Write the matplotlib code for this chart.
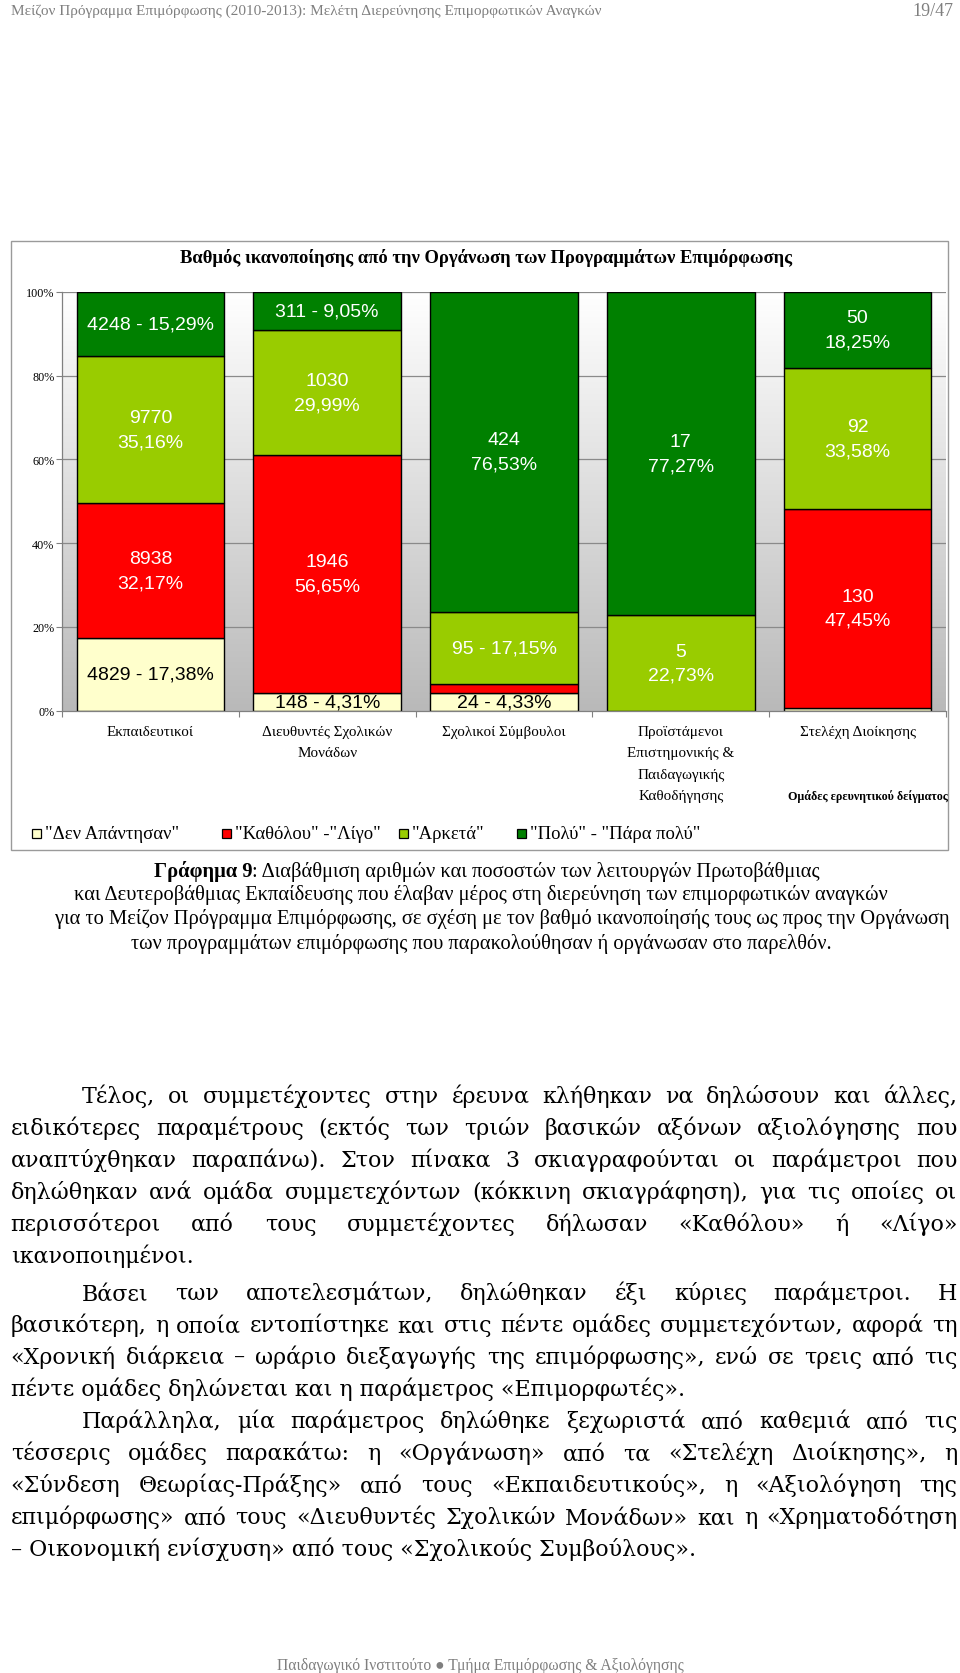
import numpy as np
import matplotlib
matplotlib.use('Agg')
import matplotlib.pyplot as plt
from matplotlib.font_manager import FontProperties
from matplotlib.patches import Rectangle
from matplotlib.colors import LinearSegmentedColormap
from matplotlib.transforms import blended_transform_factory

# ---------------- data ----------------
groups = ["Εκπαιδευτικοί", "Διευθυντές Σχολικών\nΜονάδων", "Σχολικοί Σύμβουλοι",
          "Προϊστάμενοι\nΕπιστημονικής &\nΠαιδαγωγικής\nΚαθοδήγησης", "Στελέχη Διοίκησης"]
series_names = ['"Δεν Απάντησαν"', '"Καθόλου" -"Λίγο"', '"Αρκετά"', '"Πολύ" - "Πάρα πολύ"']
series_colors = ['#FFFFCC', '#FF0000', '#99CC00', '#008000']
label_colors = ['black', 'white', 'white', 'white']

no_answer_n = [4829, 148, 24, 0, 2]
no_answer_pct = [17.38, 4.31, 4.33, 0.00, 0.73]
little_n = [8938, 1946, 11, 0, 130]
little_pct = [32.17, 56.65, 1.99, 0.00, 47.45]
enough_n = [9770, 1030, 95, 5, 92]
enough_pct = [35.16, 29.99, 17.15, 22.73, 33.58]
much_n = [4248, 311, 424, 17, 50]
much_pct = [15.29, 9.05, 76.53, 77.27, 18.25]

counts = [no_answer_n, little_n, enough_n, much_n]
pcts = [no_answer_pct, little_pct, enough_pct, much_pct]
# label layout per series/group: 1 = "n - p%", 2 = "n\np%", 0 = none
label_mode = [[1, 1, 1, 0, 0],
              [2, 2, 0, 0, 2],
              [2, 2, 1, 2, 2],
              [1, 1, 2, 2, 2]]

chart_title = "Βαθμός ικανοποίησης από την Οργάνωση των Προγραμμάτων Επιμόρφωσης"
x_axis_title = "Ομάδες ερευνητικού δείγματος"
header_left = "Μείζον Πρόγραμμα Επιμόρφωσης (2010-2013): Μελέτη Διερεύνησης Επιμορφωτικών Αναγκών"
header_right = "19/47"
footer = "Παιδαγωγικό Ινστιτούτο ● Τμήμα Επιμόρφωσης & Αξιολόγησης"

caption_bold = "Γράφημα 9"
caption_lines = [": Διαβάθμιση αριθμών και ποσοστών των λειτουργών Πρωτοβάθμιας",
                 "και Δευτεροβάθμιας Εκπαίδευσης που έλαβαν μέρος στη διερεύνηση των επιμορφωτικών αναγκών",
                 "για το Μείζον Πρόγραμμα Επιμόρφωσης, σε σχέση με τον βαθμό ικανοποίησής τους ως προς την Οργάνωση",
                 "των προγραμμάτων επιμόρφωσης που παρακολούθησαν ή οργάνωσαν στο παρελθόν."]

paragraphs = [
    ["Τέλος, οι συμμετέχοντες στην έρευνα κλήθηκαν να δηλώσουν και άλλες,",
     "ειδικότερες παραμέτρους (εκτός των τριών βασικών αξόνων αξιολόγησης που",
     "αναπτύχθηκαν παραπάνω). Στον πίνακα 3 σκιαγραφούνται οι παράμετροι που",
     "δηλώθηκαν ανά ομάδα συμμετεχόντων (κόκκινη σκιαγράφηση), για τις οποίες οι",
     "περισσότεροι από τους συμμετέχοντες δήλωσαν «Καθόλου» ή «Λίγο»",
     "ικανοποιημένοι."],
    ["Βάσει των αποτελεσμάτων, δηλώθηκαν έξι κύριες παράμετροι. Η",
     "βασικότερη, η οποία εντοπίστηκε και στις πέντε ομάδες συμμετεχόντων, αφορά τη",
     "«Χρονική διάρκεια – ωράριο διεξαγωγής της επιμόρφωσης», ενώ σε τρεις από τις",
     "πέντε ομάδες δηλώνεται και η παράμετρος «Επιμορφωτές»."],
    ["Παράλληλα, μία παράμετρος δηλώθηκε ξεχωριστά από καθεμιά από τις",
     "τέσσερις ομάδες παρακάτω: η «Οργάνωση» από τα «Στελέχη Διοίκησης», η",
     "«Σύνδεση Θεωρίας-Πράξης» από τους «Εκπαιδευτικούς», η «Αξιολόγηση της",
     "επιμόρφωσης» από τους «Διευθυντές Σχολικών Μονάδων» και η «Χρηματοδότηση",
     "– Οικονομική ενίσχυση» από τους «Σχολικούς Συμβούλους»."],
]

# ---------------- figure ----------------
W, H = 960, 1674
fig = plt.figure(figsize=(W / 100, H / 100), dpi=100)
fig.patch.set_facecolor('white')
renderer = fig.canvas.get_renderer()


def fx(x):
    return x / W


def fy(y):
    return 1 - y / H


def tw(s, fp):
    w, h, d = renderer.get_text_width_height_descent(s, fp, ismath=False)
    return w


def fit_fp(s, family, target, weight='normal'):
    fp = FontProperties(family=family, weight=weight, size=10)
    size = 10 * target / tw(s, fp)
    return FontProperties(family=family, weight=weight, size=size)


SERIF = ['Liberation Serif', 'DejaVu Serif']
SANS = ['Liberation Sans', 'DejaVu Sans']

# header / footer
fp_head = fit_fp(header_left, SERIF, 587)
fig.text(fx(11), fy(11), header_left, fontproperties=fp_head, color='#7f7f7f',
         ha='left', va='center')
fig.text(fx(953), fy(11), header_right, fontproperties=FontProperties(family=SERIF, size=13),
         color='#7f7f7f', ha='right', va='center')
fp_foot = fit_fp(footer, ['Liberation Serif', 'DejaVu Sans'], 406)
fig.text(fx(480), fy(1666), footer, fontproperties=fp_foot, color='#7f7f7f',
         ha='center', va='center')

# chart frame
fig.add_artist(Rectangle((fx(10.7), fy(851)), (948 - 10.7) / W, (851 - 242) / H,
                         transform=fig.transFigure, fill=False, ec='#9a9a9a', lw=1.0))

fp_title = fit_fp(chart_title, SERIF, 614, weight='bold')
fig.text(fx(486), fy(258), chart_title, fontproperties=fp_title, ha='center', va='center')

# axes
y0, y100 = 711.7, 292.7
ax = fig.add_axes([fx(62), fy(y0), (946 - 62) / W, (y0 - y100) / H])
ax.set_xlim(-0.5, len(groups) - 0.5)
ax.set_ylim(0, 100)
cmap = LinearSegmentedColormap.from_list('bg', ['#FFFFFF', '#B9B9B9'])
ax.imshow(np.linspace(0, 1, 256).reshape(-1, 1), extent=[-0.5, len(groups) - 0.5, 0, 100],
          aspect='auto', cmap=cmap, origin='upper', zorder=0)
for g in range(20, 101, 20):
    ax.axhline(g, color='#8a8a8a', lw=0.9, zorder=1)

x = np.arange(len(groups))
bottom = np.zeros(len(groups))
fp_lab = FontProperties(family=SANS, size=14)
for s in range(4):
    vals = np.array(pcts[s])
    ax.bar(x, vals, 0.835, bottom=bottom, color=series_colors[s], edgecolor='black',
           lw=1.0, zorder=2)
    for i in range(len(groups)):
        m = label_mode[s][i]
        if m == 0:
            continue
        ptxt = f"{pcts[s][i]:.2f}".replace('.', ',') + '%'
        txt = f"{counts[s][i]} - {ptxt}" if m == 1 else f"{counts[s][i]}\n{ptxt}"
        ax.text(x[i], bottom[i] + vals[i] / 2, txt, fontproperties=fp_lab,
                color=label_colors[s], ha='center', va='center', linespacing=1.55, zorder=3)
    bottom += vals

fp_tick = FontProperties(family=SERIF, size=8.7)
ax.set_yticks(range(0, 101, 20))
ax.set_yticklabels([f"{v}%" for v in range(0, 101, 20)], fontproperties=fp_tick)
ax.set_xticks([])
ax.set_xticks(np.arange(-0.5, len(groups), 1.0), minor=True)
ax.tick_params(axis='y', length=4, width=0.8, color='#808080', pad=1.5)
ax.tick_params(axis='x', which='minor', length=4, width=0.8, color='#808080')
for sp in ['top', 'right']:
    ax.spines[sp].set_visible(False)
for sp in ['left', 'bottom']:
    ax.spines[sp].set_color('#808080')
    ax.spines[sp].set_linewidth(0.9)

# category labels
fp_cat = fit_fp("Σχολικοί Σύμβουλοι", SERIF, 123)
trans = blended_transform_factory(ax.transData, fig.transFigure)
for i, g in enumerate(groups):
    ax.text(i, fy(726), g, fontproperties=fp_cat, ha='center', va='top',
            transform=trans, linespacing=1.85, clip_on=False)

fp_xt = fit_fp(x_axis_title, SERIF, 160, weight='bold')
fig.text(fx(948), fy(797), x_axis_title, fontproperties=fp_xt, ha='right', va='center')

# legend
fp_leg = fit_fp(series_names[0], SERIF, 134)
leg_sq = [32, 222, 399, 517]
for s in range(4):
    fig.add_artist(Rectangle((fx(leg_sq[s]), fy(839)), 9 / W, 9 / H, transform=fig.transFigure,
                             fc=series_colors[s], ec='black', lw=0.9))
    fig.text(fx(leg_sq[s] + 13), fy(834.5), series_names[s], fontproperties=fp_leg,
             ha='left', va='center')

# caption
fp_cap = fit_fp(caption_lines[2], SERIF, 893)
fp_cap_b = FontProperties(family=SERIF, weight='bold', size=fp_cap.get_size())
cap_y = [872.4, 894.8, 919.4, 944.0]
cap_cx = [487, 481, 502, 481]
for i, line in enumerate(caption_lines):
    base = fy(cap_y[i] + 5)
    if i == 0:
        wb = tw(caption_bold, fp_cap_b)
        wr = tw(line, fp_cap)
        xs = cap_cx[i] - (wb + wr) / 2
        fig.text(fx(xs), base, caption_bold, fontproperties=fp_cap_b, ha='left', va='baseline')
        fig.text(fx(xs + wb), base, line, fontproperties=fp_cap, ha='left', va='baseline')
    else:
        fig.text(fx(cap_cx[i]), base, line, fontproperties=fp_cap, ha='center', va='baseline')

# body text (justified)
fp_body = fit_fp(paragraphs[1][-1], ['DejaVu Serif'], 672)
para_y = [[1096.6, 1128.7, 1160.7, 1192.7, 1224.8, 1256.8],
          [1294.2, 1326.2, 1358.2, 1390.3],
          [1422.3, 1454.3, 1486.4, 1518.4, 1550.5]]
X0, X1, INDENT = 10.7, 957.5, 71.5
for p, lines in enumerate(paragraphs):
    for i, line in enumerate(lines):
        base = fy(para_y[p][i] + 6)
        start = X0 + (INDENT if i == 0 else 0)
        if i == len(lines) - 1:
            fig.text(fx(start), base, line, fontproperties=fp_body, ha='left', va='baseline')
            continue
        words = line.split(' ')
        widths = [tw(w_, fp_body) for w_ in words]
        gap = (X1 - start - sum(widths)) / (len(words) - 1)
        xx = start
        for w_, wd in zip(words, widths):
            fig.text(fx(xx), base, w_, fontproperties=fp_body, ha='left', va='baseline')
            xx += wd + gap

fig.savefig('out.png', dpi=100, facecolor='white')
